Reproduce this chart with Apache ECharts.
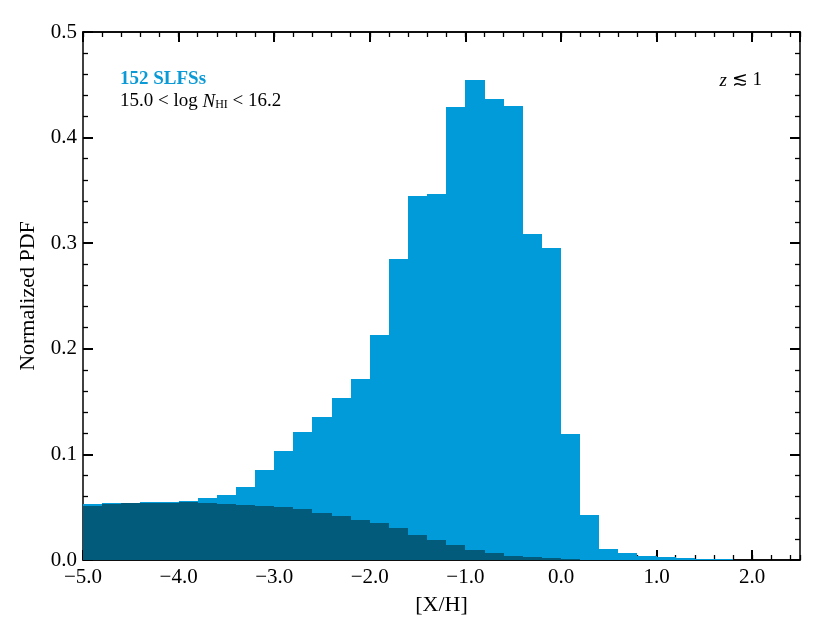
<!DOCTYPE html>
<html>
<head>
<meta charset="utf-8">
<script src="https://cdn.jsdelivr.net/npm/echarts@6/dist/echarts.min.js"></script>
<style>
  html, body { margin: 0; padding: 0; background: #fff; }
  #chart { width: 830px; height: 623px; }
</style>
</head>
<body>
<div id="chart"></div>
<script>
// left edge of each 0.2-dex bin in [X/H]
const binStarts = [
  -5.0, -4.8, -4.6, -4.4, -4.2, -4.0, -3.8, -3.6, -3.4, -3.2,
  -3.0, -2.8, -2.6, -2.4, -2.2, -2.0, -1.8, -1.6, -1.4, -1.2,
  -1.0, -0.8, -0.6, -0.4, -0.2, 0.0, 0.2, 0.4, 0.6, 0.8,
  1.0, 1.2, 1.4, 1.6, 1.8, 2.0, 2.2
];
const binWidth = 0.2;
// light histogram (all SLFSs)
const pdfAll = [
  0.053, 0.0536, 0.054, 0.0545, 0.0552, 0.0562, 0.0584, 0.0619, 0.069, 0.085,
  0.103, 0.121, 0.135, 0.153, 0.171, 0.213, 0.285, 0.345, 0.347, 0.429,
  0.455, 0.437, 0.430, 0.309, 0.295, 0.119, 0.043, 0.0104, 0.0063, 0.0041,
  0.0025, 0.0016, 0.0009, 0.0006, 0.0003, 0.0002, 0.0001
];
// dark histogram drawn in front
const pdfDark = [
  0.0514, 0.0527, 0.0536, 0.054, 0.0542, 0.0545, 0.054, 0.053, 0.052, 0.0514,
  0.0505, 0.048, 0.0442, 0.0417, 0.038, 0.0347, 0.030, 0.0237, 0.019, 0.0139,
  0.0095, 0.0069, 0.0041, 0.0025, 0.0016, 0.0006, 0.0003, 0.0001, 0, 0,
  0, 0, 0, 0, 0, 0, 0
];
const xTicks = [-5, -4, -3, -2, -1, 0, 1, 2];

const FONT = '"Liberation Serif", "DejaVu Serif", serif';
const chart = echarts.init(document.getElementById('chart'));

function histData(vals) {
  return binStarts.map((s, i) => [s, s + binWidth, vals[i]]);
}
// snap bin edges to whole pixels so neighbouring bars meet without seams
function renderBin(params, api) {
  if (!api.value(2)) return null;
  const top = api.coord([api.value(0), api.value(2)]);
  const bot = api.coord([api.value(1), 0]);
  const x0 = Math.round(top[0]);
  const x1 = Math.round(bot[0]);
  const y0 = Math.round(top[1]);
  const y1 = Math.round(bot[1]);
  return {
    type: 'rect',
    shape: { x: x0, y: y0, width: x1 - x0, height: y1 - y0 },
    style: { fill: api.visual('color') }
  };
}
function fmtX(v) {
  if (Math.abs(v - Math.round(v)) > 1e-6 || xTicks.indexOf(Math.round(v)) < 0) return '';
  const r = Math.round(v);
  return (r < 0 ? '\u2212' : '') + Math.abs(r).toFixed(1);
}

const lineStyle = { color: '#000', width: 1.5 };
function xAxisDef(pos, major) {
  return {
    type: 'value', position: pos, min: -5, max: 2.5,
    interval: major ? 1 : 0.2,
    axisLine: { show: true, onZero: false, lineStyle },
    axisTick: { show: true, inside: true, length: major ? 10 : 5, lineStyle: { color: '#000', width: major ? 2 : 1.3 } },
    axisLabel: {
      show: pos === 'bottom' && major, formatter: fmtX, margin: 7,
      fontFamily: FONT, fontSize: 21, color: '#000',
      showMaxLabel: false
    },
    splitLine: { show: false },
    name: pos === 'bottom' && major ? '[X/H]' : '',
    nameLocation: 'middle', nameGap: 34,
    nameTextStyle: { fontFamily: FONT, fontSize: 22, color: '#000' }
  };
}
function yAxisDef(pos) {
  return {
    type: 'value', position: pos, min: 0, max: 0.5, interval: 0.1,
    axisLine: { show: true, onZero: false, lineStyle },
    axisTick: { show: true, inside: true, length: 10, lineStyle: { color: '#000', width: 2 } },
    minorTick: { show: true, splitNumber: 5, length: 5, lineStyle: { color: '#000', width: 1.3 } },
    axisLabel: {
      show: pos === 'left', formatter: v => v.toFixed(1), margin: 6,
      fontFamily: FONT, fontSize: 21, color: '#000'
    },
    splitLine: { show: false },
    minorSplitLine: { show: false },
    name: pos === 'left' ? 'Normalized PDF' : '',
    nameLocation: 'middle', nameGap: 44,
    nameTextStyle: { fontFamily: FONT, fontSize: 22, color: '#000' }
  };
}

const option = {
  animation: false,
  backgroundColor: '#fff',
  grid: { left: 83, right: 30, top: 32, bottom: 63 },
  xAxis: [xAxisDef('bottom', true), xAxisDef('bottom', false), xAxisDef('top', true), xAxisDef('top', false)],
  yAxis: [yAxisDef('left'), yAxisDef('right')],
  series: [
    {
      type: 'custom', name: 'all', xAxisIndex: 0, yAxisIndex: 0,
      renderItem: renderBin, encode: { x: [0, 1], y: 2 },
      itemStyle: { color: '#009bd8' }, clip: true, z: 1,
      data: histData(pdfAll)
    },
    {
      type: 'custom', name: 'dark', xAxisIndex: 0, yAxisIndex: 0,
      renderItem: renderBin, encode: { x: [0, 1], y: 2 },
      itemStyle: { color: '#035b7c' }, clip: true, z: 2,
      data: histData(pdfDark)
    }
  ],
  graphic: [
    {
      type: 'text', left: 120, top: 70, z: 100,
      style: { text: '152 SLFSs', fill: '#0a9ad6', font: 'bold 19px ' + FONT }
    },
    {
      type: 'text', left: 120, top: 92, z: 100,
      style: {
        text: '15.0 < log {i|N}{s|HI} < 16.2',
        fill: '#000', font: '19px ' + FONT,
        rich: {
          i: { fontStyle: 'italic', fontSize: 19, fontFamily: FONT, fill: '#000' },
          s: { fontSize: 12, fontFamily: FONT, fill: '#000', verticalAlign: 'bottom', padding: [6, 0, 0, 0] }
        }
      }
    },
    {
      type: 'text', right: 68, top: 71, z: 100,
      style: {
        text: '{i|z} \u2272 1',
        fill: '#000', font: '19px ' + FONT,
        rich: { i: { fontStyle: 'italic', fontSize: 19, fontFamily: FONT, fill: '#000' } }
      }
    }
  ]
};
chart.setOption(option);
</script>
</body>
</html>
